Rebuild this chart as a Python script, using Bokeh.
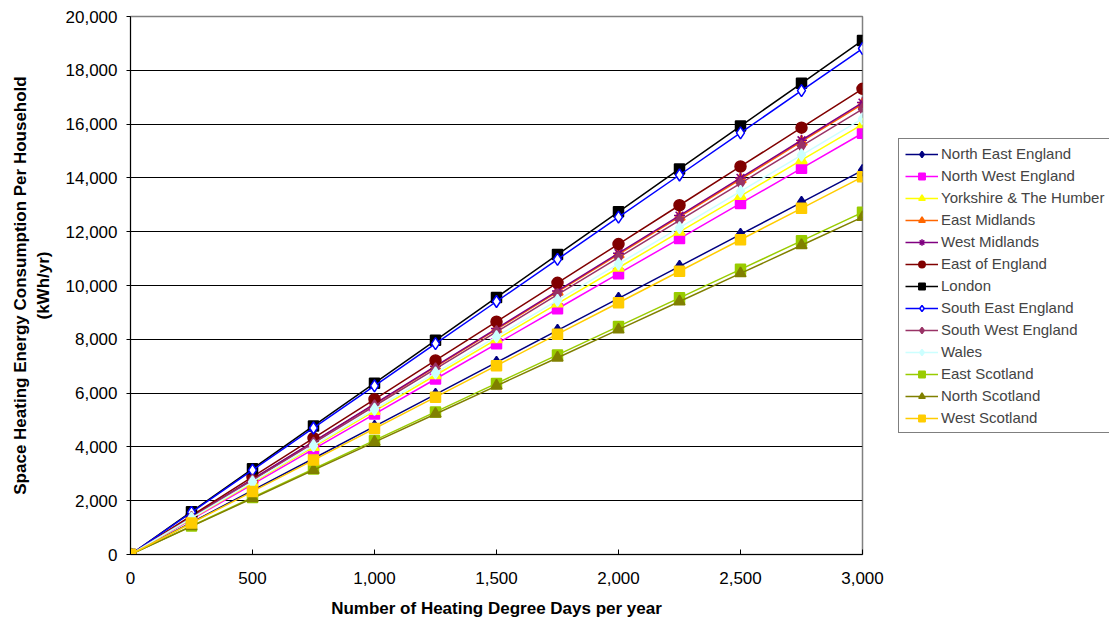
from bokeh.plotting import figure
from bokeh.layouts import row
from bokeh.models import (Legend, LegendItem, NumeralTickFormatter, FixedTicker)
from bokeh.embed import file_html
from bokeh.resources import INLINE

hdd = [0, 250, 500, 750, 1000, 1250, 1500, 1750, 2000, 2250, 2500, 2750, 3000]

north_east_england = [0, 1190, 2380, 3570, 4760, 5950, 7140, 8330, 9520, 10710, 11900, 13090, 14280]
north_west_england = [0, 1305, 2610, 3915, 5220, 6525, 7830, 9135, 10440, 11745, 13050, 14355, 15660]
yorkshire_humber = [0, 1333, 2665, 3998, 5330, 6663, 7995, 9328, 10660, 11993, 13325, 14658, 15990]
east_midlands = [0, 1395, 2790, 4185, 5580, 6975, 8370, 9765, 11160, 12555, 13950, 15345, 16740]
west_midlands = [0, 1400, 2800, 4200, 5600, 7000, 8400, 9800, 11200, 12600, 14000, 15400, 16800]
east_of_england = [0, 1443, 2885, 4328, 5770, 7213, 8655, 10098, 11540, 12983, 14425, 15868, 17310]
london = [0, 1593, 3185, 4778, 6370, 7963, 9555, 11148, 12740, 14333, 15925, 17518, 19110]
south_east_england = [0, 1568, 3135, 4703, 6270, 7838, 9405, 10973, 12540, 14108, 15675, 17243, 18810]
south_west_england = [0, 1380, 2760, 4140, 5520, 6900, 8280, 9660, 11040, 12420, 13800, 15180, 16560]
wales = [0, 1350, 2700, 4050, 5400, 6750, 8100, 9450, 10800, 12150, 13500, 14850, 16200]
east_scotland = [0, 1060, 2120, 3180, 4240, 5300, 6360, 7420, 8480, 9540, 10600, 11660, 12720]
north_scotland = [0, 1045, 2090, 3135, 4180, 5225, 6270, 7315, 8360, 9405, 10450, 11495, 12540]
west_scotland = [0, 1170, 2340, 3510, 4680, 5850, 7020, 8190, 9360, 10530, 11700, 12870, 14040]

y_ticks = [0, 2000, 4000, 6000, 8000, 10000, 12000, 14000, 16000, 18000, 20000]
x_ticks = [0, 500, 1000, 1500, 2000, 2500, 3000]

series = [
    ("North East England", north_east_england, "#000080", "diamond", "#000080", 12),
    ("North West England", north_west_england, "#FF00FF", "square", "#FF00FF", 10),
    ("Yorkshire & The Humber", yorkshire_humber, "#FFFF00", "triangle", "#FFFF00", 11),
    ("East Midlands", east_midlands, "#FF6600", "triangle", "#FF6600", 11),
    ("West Midlands", west_midlands, "#800080", "asterisk", "#800080", 11),
    ("East of England", east_of_england, "#800000", "circle", "#800000", 11),
    ("London", london, "#000000", "square", "#000000", 10),
    ("South East England", south_east_england, "#0000FF", "diamond", "#FFFFFF", 12),
    ("South West England", south_west_england, "#993366", "diamond", "#993366", 12),
    ("Wales", wales, "#CCFFFF", "diamond", "#CCFFFF", 12),
    ("East Scotland", east_scotland, "#99CC00", "square", "#99CC00", 10),
    ("North Scotland", north_scotland, "#808000", "triangle", "#808000", 11),
    ("West Scotland", west_scotland, "#FFCC00", "square", "#FFCC00", 10),
]

FONT = "Liberation Sans"

p = figure(width=887, height=623, output_backend="svg", toolbar_location=None,
           x_range=(0, 3000), y_range=(0, 20000),
           min_border_left=130, min_border_right=25, min_border_top=16, min_border_bottom=69)

# legend panel: a second figure whose ranges leave its copies of the series out of view,
# so only the legend (glyph samples + labels) is visible there
pl = figure(width=222, height=623, output_backend="svg", toolbar_location=None,
            x_range=(-2, -1), y_range=(-2, -1),
            min_border_left=0, min_border_right=0, min_border_top=0, min_border_bottom=0)
pl.axis.visible = False
pl.grid.visible = False
pl.outline_line_color = None

items = []
for name, vals, lc, marker, fc, size in series:
    p.line(hdd, vals, line_color=lc, line_width=1.5)
    p.scatter(hdd, vals, marker=marker, size=size, line_color=lc, fill_color=fc, line_width=1.5)
    l1 = pl.line(hdd, vals, line_color=lc, line_width=1.5)
    l2 = pl.scatter(hdd, vals, marker=marker, size=size, line_color=lc,
                    fill_color=fc, line_width=1.5)
    items.append(LegendItem(label=name, renderers=[l1, l2]))

legend = Legend(items=items, location=(11, 121))
legend.label_text_font = FONT
legend.label_text_font_size = "15px"
legend.glyph_width = 33
legend.glyph_height = 16
legend.label_height = 16
legend.spacing = 5
legend.padding = 6
legend.label_standoff = 3
legend.border_line_color = "#000000"
legend.border_line_width = 1
legend.background_fill_color = "#FFFFFF"
legend.background_fill_alpha = 1.0
pl.add_layout(legend, "center")

p.xgrid.visible = False
p.ygrid.grid_line_color = "#000000"
p.ygrid.grid_line_width = 1
p.ygrid.ticker = FixedTicker(ticks=y_ticks)
p.outline_line_color = "#808080"
p.outline_line_width = 1.5

p.yaxis.ticker = FixedTicker(ticks=y_ticks)
p.xaxis.ticker = FixedTicker(ticks=x_ticks)
p.yaxis.formatter = NumeralTickFormatter(format="0,0")
p.xaxis.formatter = NumeralTickFormatter(format="0,0")

for ax in (p.xaxis[0], p.yaxis[0]):
    ax.axis_line_color = "#000000"
    ax.axis_line_width = 1
    ax.major_tick_line_color = "#000000"
    ax.minor_tick_line_color = None
    ax.major_label_text_font = FONT
    ax.major_label_text_font_size = "17px"
    ax.major_label_text_color = "#000000"
    ax.axis_label_text_font = FONT
    ax.axis_label_text_font_size = "17px"
    ax.axis_label_text_font_style = "bold"
    ax.axis_label_text_color = "#000000"

p.yaxis.major_tick_out = 4
p.yaxis.major_tick_in = 0
p.xaxis.major_tick_out = 0
p.xaxis.major_tick_in = 5
p.yaxis.major_label_standoff = 9
p.xaxis.major_label_standoff = 17
p.xaxis.axis_label = "Number of Heating Degree Days per year"
p.yaxis.axis_label = "Space Heating Energy Consumption Per Household\n(kWh/yr)"
p.xaxis.axis_label_standoff = 12
p.yaxis.axis_label_standoff = 10

layout = row(p, pl, spacing=0)
open("out.html", "w").write(file_html(layout, INLINE))
